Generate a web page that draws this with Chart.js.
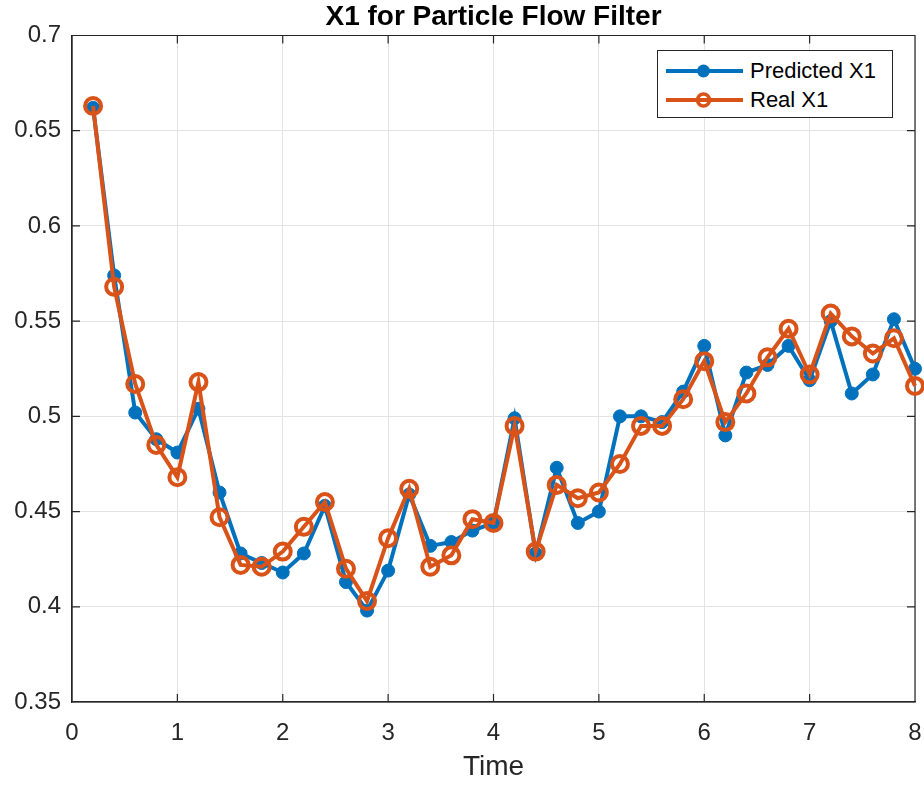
<!DOCTYPE html>
<html>
<head>
<meta charset="utf-8">
<title>X1 for Particle Flow Filter</title>
<script src="https://cdn.jsdelivr.net/npm/chart.js@4.4.1/dist/chart.umd.min.js"></script>
<style>
  html, body { margin: 0; padding: 0; background: #fff; }
  #wrap { position: relative; width: 924px; height: 786px; }
  #legend {
    position: absolute; left: 657px; top: 50px; width: 234px; height: 66px;
    background: #fff; border: 1px solid #262626; box-sizing: content-box;
    font-family: "Liberation Sans", Arial, sans-serif; font-size: 22px; color: #000;
  }
  #legend .item { position: absolute; left: 0; height: 28px; width: 234px; }
  #legend svg { position: absolute; left: 0; top: 0; }
  #legend span { position: absolute; left: 92px; top: 1px; line-height: 26px; }
</style>
</head>
<body>
<div id="wrap">
  <canvas id="chart" width="924" height="786"></canvas>
  <div id="legend">
    <div class="item" style="top:6px">
      <svg width="90" height="28"><line x1="8" y1="14" x2="85" y2="14" stroke="#0072BD" stroke-width="4"/><circle cx="45.5" cy="14" r="6.5" fill="#0072BD"/></svg>
      <span>Predicted X1</span>
    </div>
    <div class="item" style="top:35px">
      <svg width="90" height="28"><line x1="8" y1="14" x2="85" y2="14" stroke="#D95319" stroke-width="4"/><circle cx="45.5" cy="14" r="6" fill="none" stroke="#D95319" stroke-width="3.5"/></svg>
      <span>Real X1</span>
    </div>
  </div>
</div>
<script>
/* data */
const TIMES = [
  0.2, 0.4, 0.6, 0.8, 1.0, 1.2, 1.4, 1.6, 1.8, 2.0,
  2.2, 2.4, 2.6, 2.8, 3.0, 3.2, 3.4, 3.6, 3.8, 4.0,
  4.2, 4.4, 4.6, 4.8, 5.0, 5.2, 5.4, 5.6, 5.8, 6.0,
  6.2, 6.4, 6.6, 6.8, 7.0, 7.2, 7.4, 7.6, 7.8, 8.0
];
const PREDICTED_X1 = [
  0.662, 0.574, 0.502, 0.488, 0.481, 0.504, 0.460, 0.428, 0.423, 0.418,
  0.428, 0.453, 0.413, 0.398, 0.419, 0.459, 0.432, 0.434, 0.440, 0.444,
  0.499, 0.428, 0.473, 0.444, 0.450, 0.500, 0.500, 0.497, 0.513, 0.537,
  0.490, 0.523, 0.527, 0.537, 0.519, 0.550, 0.512, 0.522, 0.551, 0.525
];
const REAL_X1 = [
  0.663, 0.568, 0.517, 0.485, 0.468, 0.518, 0.447, 0.422, 0.421, 0.429,
  0.442, 0.455, 0.420, 0.403, 0.436, 0.462, 0.421, 0.427, 0.446, 0.444,
  0.495, 0.429, 0.464, 0.457, 0.460, 0.475, 0.495, 0.495, 0.509, 0.529,
  0.497, 0.512, 0.531, 0.546, 0.522, 0.554, 0.542, 0.533, 0.541, 0.516
];
const X_RANGE = [0, 8];
const Y_RANGE = [0.35, 0.7];
const Y_STEP = 0.05;

const BLUE = '#0072BD';
const ORANGE = '#D95319';
const AXIS = '#262626';
const GRID = '#e3e3e3';
const FONT = '"Liberation Sans", Arial, Helvetica, sans-serif';

function toPoints(xs, ys) {
  return xs.map((x, i) => ({ x, y: ys[i] }));
}

// MATLAB style box: top/right edges plus inward tick marks on all sides
const boxPlugin = {
  id: 'box',
  beforeDatasetsDraw(chart) {
    const { ctx, chartArea: a, scales } = chart;
    const len = 8;
    ctx.save();
    ctx.strokeStyle = AXIS;
    ctx.lineWidth = 1.2;
    ctx.beginPath();
    ctx.rect(a.left, a.top, a.right - a.left, a.bottom - a.top);
    scales.x.ticks.forEach(t => {
      const px = scales.x.getPixelForValue(t.value);
      ctx.moveTo(px, a.bottom); ctx.lineTo(px, a.bottom - len);
      ctx.moveTo(px, a.top); ctx.lineTo(px, a.top + len);
    });
    scales.y.ticks.forEach(t => {
      const py = scales.y.getPixelForValue(t.value);
      ctx.moveTo(a.left, py); ctx.lineTo(a.left + len, py);
      ctx.moveTo(a.right, py); ctx.lineTo(a.right - len, py);
    });
    ctx.stroke();
    ctx.restore();
  }
};

new Chart(document.getElementById('chart'), {
  type: 'line',
  data: {
    datasets: [
      {
        label: 'Predicted X1',
        data: toPoints(TIMES, PREDICTED_X1),
        borderColor: BLUE,
        backgroundColor: BLUE,
        borderWidth: 4,
        pointRadius: 6.5,
        pointBorderWidth: 1,
        pointBackgroundColor: BLUE,
        pointBorderColor: BLUE,
        tension: 0,
        clip: false,
        order: 2,
      },
      {
        label: 'Real X1',
        data: toPoints(TIMES, REAL_X1),
        borderColor: ORANGE,
        backgroundColor: 'transparent',
        borderWidth: 4,
        pointRadius: 8,
        pointBorderWidth: 4,
        pointBackgroundColor: 'rgba(0,0,0,0)',
        pointBorderColor: ORANGE,
        tension: 0,
        clip: false,
        order: 1,
      },
    ],
  },
  options: {
    responsive: false,
    animation: false,
    events: [],
    layout: { autoPadding: false, padding: { left: 0, right: 9, top: 0, bottom: 0 } },
    plugins: {
      legend: { display: false },
      tooltip: { enabled: false },
      title: {
        display: true,
        fullSize: false,
        text: 'X1 for Particle Flow Filter',
        color: '#000',
        font: { family: FONT, size: 28, weight: 'bold', lineHeight: 1.2 },
        padding: { top: 0, bottom: 1.9 },
      },
    },
    scales: {
      x: {
        type: 'linear',
        min: X_RANGE[0],
        max: X_RANGE[1],
        afterFit: (s) => { s.height = 84; s.paddingLeft = 0; s.paddingRight = 0; },
        ticks: { stepSize: 1, color: AXIS, padding: 17, font: { family: FONT, size: 24 } },
        grid: { color: GRID, lineWidth: 1, drawTicks: false },
        border: { color: AXIS, width: 1.2 },
        title: {
          display: true,
          text: 'Time',
          color: AXIS,
          font: { family: FONT, size: 28 },
          padding: { top: 0, bottom: 2 },
        },
      },
      y: {
        min: Y_RANGE[0],
        max: Y_RANGE[1],
        afterFit: (s) => { s.width = 72; },
        ticks: {
          stepSize: Y_STEP,
          color: AXIS,
          padding: 11,
          font: { family: FONT, size: 24 },
          callback: (v) => String(Number(v.toFixed(2))),
        },
        grid: { color: GRID, lineWidth: 1, drawTicks: false },
        border: { color: AXIS, width: 1.2 },
      },
    },
  },
  plugins: [boxPlugin],
});
</script>
</body>
</html>
